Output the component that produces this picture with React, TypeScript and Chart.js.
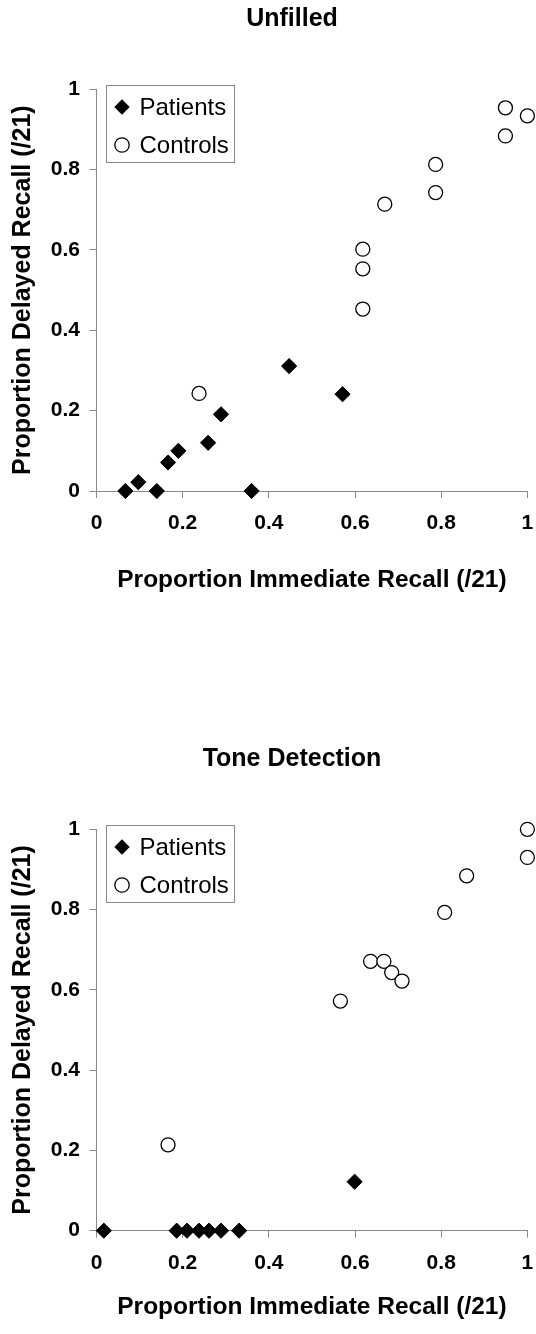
import React, { useEffect, useRef } from 'react';
import { Chart, registerables } from 'chart.js';

Chart.register(...registerables);

const FONT = 'Arial, "Liberation Sans", sans-serif';
const AXIS_GREY = '#8a8a8a';

// ---- data ----
const tickValues = [0, 0.2, 0.4, 0.6, 0.8, 1];
const tickLabels = ['0', '0.2', '0.4', '0.6', '0.8', '1'];
const seriesNames = ['Patients', 'Controls'];
const xAxisTitle = 'Proportion Immediate Recall (/21)';
const yAxisTitle = 'Proportion Delayed Recall (/21)';

const unfilledTitle = 'Unfilled';
const unfilledPatientsX = [0.067, 0.097, 0.14, 0.166, 0.19, 0.259, 0.289, 0.36, 0.447, 0.571];
const unfilledPatientsY = [0, 0.022, 0, 0.071, 0.1, 0.12, 0.191, 0, 0.311, 0.241];
const unfilledControlsX = [0.238, 0.618, 0.618, 0.618, 0.669, 0.787, 0.787, 0.949, 0.949, 1.0];
const unfilledControlsY = [0.243, 0.453, 0.553, 0.602, 0.714, 0.743, 0.813, 0.884, 0.954, 0.934];

const toneTitle = 'Tone Detection';
const tonePatientsX = [0.017, 0.186, 0.21, 0.238, 0.261, 0.289, 0.331, 0.599];
const tonePatientsY = [0, 0, 0, 0, 0, 0, 0, 0.122];
const toneControlsX = [0.166, 0.566, 0.636, 0.667, 0.685, 0.709, 0.808, 0.859, 1.0, 1.0];
const toneControlsY = [0.214, 0.572, 0.671, 0.671, 0.643, 0.622, 0.793, 0.884, 1.0, 0.93];

const zip = (xs: number[], ys: number[]) => xs.map((x, i) => ({ x, y: ys[i] }));

const tickLabel = (v: any) => {
  const idx = tickValues.findIndex((t) => Math.abs(t - Number(v)) < 1e-6);
  return idx >= 0 ? tickLabels[idx] : '';
};

// panel title, centred as in the original figure
const panelTitle = {
  id: 'panelTitle',
  afterDraw(chart: any, _args: any, opts: any) {
    const { ctx } = chart;
    ctx.save();
    ctx.fillStyle = '#000';
    ctx.font = `bold 25px ${FONT}`;
    ctx.textAlign = 'center';
    ctx.textBaseline = 'middle';
    ctx.fillText(opts.text, 292, 19.5);
    ctx.restore();
  },
};

// legend drawn as a bordered box inside the plot area
const boxLegend = {
  id: 'boxLegend',
  afterDraw(chart: any) {
    const { ctx, chartArea } = chart;
    const left = chartArea.left + 9;
    const top = chartArea.top - 4.3;
    ctx.save();
    ctx.strokeStyle = AXIS_GREY;
    ctx.lineWidth = 1;
    ctx.strokeRect(Math.round(left) + 0.5, Math.round(top) + 0.5, 128, 77);
    const rows = [17.7, 55.7];
    chart.data.datasets.forEach((ds: any, i: number) => {
      const cy = chartArea.top + rows[i];
      const cx = chartArea.left + 25.5;
      ctx.beginPath();
      if (ds.pointStyle === 'rectRot') {
        const r = 7.7;
        ctx.moveTo(cx, cy - r);
        ctx.lineTo(cx + r, cy);
        ctx.lineTo(cx, cy + r);
        ctx.lineTo(cx - r, cy);
        ctx.closePath();
        ctx.fillStyle = ds.backgroundColor;
        ctx.fill();
      } else {
        ctx.arc(cx, cy, 7.2, 0, Math.PI * 2);
        ctx.fillStyle = ds.backgroundColor;
        ctx.fill();
        ctx.lineWidth = ds.borderWidth;
        ctx.strokeStyle = ds.borderColor;
        ctx.stroke();
      }
      ctx.fillStyle = '#000';
      ctx.font = `24px ${FONT}`;
      ctx.textBaseline = 'middle';
      ctx.textAlign = 'left';
      ctx.fillText(ds.label, chartArea.left + 43, cy + 1);
    });
    ctx.restore();
  },
};

type Props = {
  title: string;
  px: number[];
  py: number[];
  cx: number[];
  cy: number[];
  height: number;
  xScaleHeight: number;
  bottomPad: number;
};

function ScatterPanel({ title, px, py, cx, cy, height, xScaleHeight, bottomPad }: Props) {
  const ref = useRef<HTMLCanvasElement | null>(null);
  useEffect(() => {
    if (!ref.current) return;
    const chart = new Chart(ref.current, {
      type: 'scatter',
      data: {
        datasets: [
          {
            label: seriesNames[0],
            data: zip(px, py),
            pointStyle: 'rectRot',
            pointRadius: 7.6,
            backgroundColor: '#000',
            borderColor: '#000',
            borderWidth: 1,
            clip: false as any,
          },
          {
            label: seriesNames[1],
            data: zip(cx, cy),
            pointStyle: 'circle',
            pointRadius: 7,
            backgroundColor: '#fff',
            borderColor: '#000',
            borderWidth: 1.3,
            clip: false as any,
          },
        ],
      },
      options: {
        responsive: false,
        animation: false,
        devicePixelRatio: 1,
        layout: { padding: { top: 89.3, left: 0, right: 6, bottom: bottomPad } },
        plugins: {
          legend: { display: false },
          tooltip: { enabled: false },
          title: { display: false },
          panelTitle: { text: title },
        },
        scales: {
          x: {
            type: 'linear',
            min: 0,
            max: 1,
            afterFit: (s: any) => {
              s.height = xScaleHeight;
              s.paddingRight = 6;
              s.paddingLeft = 6;
            },
            ticks: {
              stepSize: 0.2,
              color: '#000',
              padding: 13,
              font: { family: FONT, size: 21, weight: 'bold', lineHeight: 1.15 },
              callback: tickLabel,
              maxRotation: 0,
            },
            grid: { drawOnChartArea: false, drawTicks: true, tickLength: 7, color: AXIS_GREY },
            border: { color: AXIS_GREY, width: 1 },
            title: {
              display: true,
              text: xAxisTitle,
              color: '#000',
              font: { family: FONT, size: 24.5, weight: 'bold', lineHeight: 1.2 },
              padding: { top: 0, bottom: 0.3 },
            },
          },
          y: {
            type: 'linear',
            min: 0,
            max: 1,
            afterFit: (s: any) => {
              s.width = 96.5;
            },
            ticks: {
              stepSize: 0.2,
              color: '#000',
              padding: 9.5,
              font: { family: FONT, size: 21, weight: 'bold', lineHeight: 1.2 },
              callback: tickLabel,
            },
            grid: { drawOnChartArea: false, drawTicks: true, tickLength: 7, color: AXIS_GREY },
            border: { color: AXIS_GREY, width: 1 },
            title: {
              display: true,
              text: yAxisTitle,
              color: '#000',
              font: { family: FONT, size: 25, weight: 'bold', lineHeight: 1.2 },
              padding: { top: 8, bottom: 0 },
            },
          },
        },
      } as any,
      plugins: [panelTitle, boxLegend],
    });
    return () => chart.destroy();
  }, [title, px, py, cx, cy, height, xScaleHeight, bottomPad]);

  return (
    <canvas
      ref={ref}
      width={536}
      height={height}
      style={{ display: 'block', width: 536, height }}
    />
  );
}

export default function App() {
  return (
    <div style={{ position: 'absolute', left: 0, top: 0, width: 536, background: '#fff' }}>
      <ScatterPanel
        title={unfilledTitle}
        px={unfilledPatientsX}
        py={unfilledPatientsY}
        cx={unfilledControlsX}
        cy={unfilledControlsY}
        height={740}
        xScaleHeight={104}
        bottomPad={145}
      />
      <ScatterPanel
        title={toneTitle}
        px={tonePatientsX}
        py={tonePatientsY}
        cx={toneControlsX}
        cy={toneControlsY}
        height={594}
        xScaleHeight={91.7}
        bottomPad={11.6}
      />
    </div>
  );
}
